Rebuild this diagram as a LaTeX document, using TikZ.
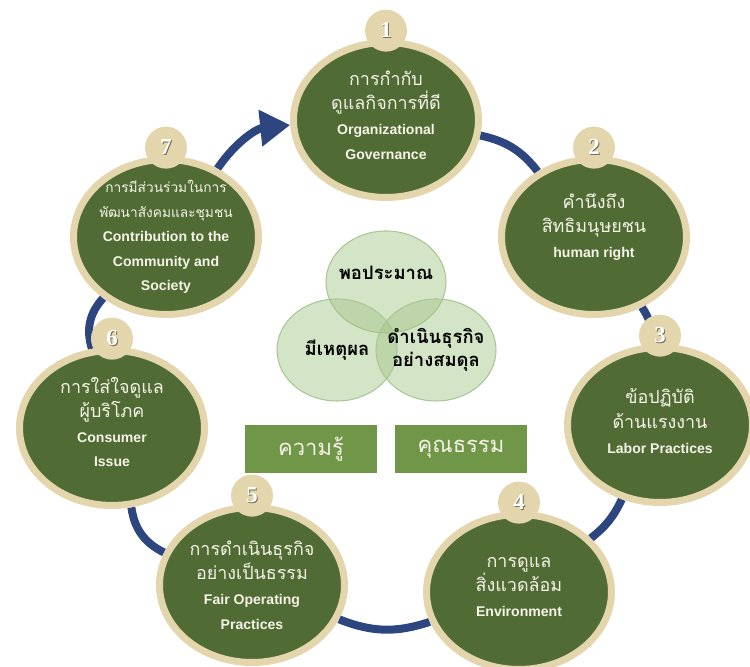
\documentclass[tikz,border=0pt]{standalone}
\usepackage{fontspec}
\setmainfont{Liberation Sans}
\newfontfamily\thaifont[Script=Thai]{Loma}
\newfontfamily\numfont{Liberation Serif}
\usetikzlibrary{shapes.geometric, positioning, arrows.meta, backgrounds}
\definecolor{leaf}{RGB}{80,108,52}
\definecolor{sand}{RGB}{228,214,172}
\definecolor{cream}{RGB}{246,243,232}
\definecolor{ringblue}{RGB}{46,70,128}
\definecolor{venn}{RGB}{160,195,130}
\definecolor{vennedge}{RGB}{170,198,150}
\definecolor{boxgreen}{RGB}{112,150,72}
\definecolor{numshade}{RGB}{120,110,90}
\newcommand{\thl}{\fontsize{10.2}{14}\thaifont}
\newcommand{\thls}{\fontsize{7.8}{14}\thaifont}
\newcommand{\engl}{\fontsize{8}{14}\selectfont\bfseries}
\newcommand{\numtxt}[1]{\rlap{\textcolor{numshade}{\kern0.6pt\raisebox{-0.6pt}{#1}}}#1}

\begin{document}
\begin{tikzpicture}[
  issue/.style={ellipse, draw=sand, line width=0.14cm, fill=leaf, minimum width=3.7cm, minimum height=3.1cm, inner sep=0pt},
  issuetext/.style={text=cream, align=center, font=\fontsize{10}{14}\selectfont},
  badge/.style={circle, fill=sand, minimum size=0.84cm, inner sep=0pt, text=white, font=\fontsize{13}{13}\numfont\bfseries},
  link/.style={ringblue, line width=0.16cm},
  petal/.style={ellipse, fill=venn, fill opacity=0.45, draw=vennedge, draw opacity=1, line width=0.6pt, minimum width=2.4cm, minimum height=2.04cm, inner sep=0pt},
  petaltext/.style={text opacity=1, align=center, font=\fontsize{10.5}{13}\thaifont\bfseries},
  value/.style={rectangle, fill=boxgreen, minimum width=2.64cm, minimum height=0.96cm, text=cream, font=\fontsize{12.5}{14}\thaifont}]
	\useasboundingbox (0,0) rectangle (15,13.34);
	\node[issue, label={[issuetext, yshift=0.1cm]center:{\thl การกำกับ\\\thl ดูแลกิจการที่ดี\\\engl Organizational\\\engl Governance}}] (c1) at (7.72,10.94) {};
	\node[issue, label={[issuetext, yshift=0.2cm]center:{\thl คำนึงถึง\\\thl สิทธิมนุษยชน\\\engl human right}}] (c2) at (11.88,8.60) {};
	\node[issue, label={[issuetext, yshift=0.08cm]center:{\thl ข้อปฏิบัติ\\\thl ด้านแรงงาน\\\engl Labor Practices}}] (c3) at (13.20,4.84) {};
	\node[issue, label={[issuetext, yshift=0.1cm]center:{\thl การดูแล\\\thl สิ่งแวดล้อม\\\engl Environment}}] (c4) at (10.38,1.50) {};
	\node[issue, label={[issuetext]center:{\thl การดำเนินธุรกิจ\\\thl อย่างเป็นธรรม\\\engl Fair Operating\\\engl Practices}}] (c5) at (5.04,1.64) {};
	\node[issue, label={[issuetext, yshift=0.12cm]center:{\thl การใส่ใจดูแล\\\thl ผู้บริโภค\\\engl Consumer\\\engl Issue}}] (c6) at (2.24,4.78) {};
	\node[issue, label={[issuetext]center:{\thls การมีส่วนร่วมในการ\\\thls พัฒนาสังคมและชุมชน\\\engl Contribution to the\\\engl Community and\\\engl Society}}] (c7) at (3.32,8.60) {};
	\node[badge, above=-0.26cm of c1] (n1) {\numtxt{1}};
	\node[badge, above=-0.26cm of c2] (n2) {\numtxt{2}};
	\node[badge, above=-0.26cm of c3] (n3) {\numtxt{3}};
	\node[badge, above=-0.26cm of c4] (n4) {\numtxt{4}};
	\node[badge, above=-0.26cm of c5] (n5) {\numtxt{5}};
	\node[badge, above=-0.26cm of c6] (n6) {\numtxt{6}};
	\node[badge, above=-0.26cm of c7] (n7) {\numtxt{7}};
	\begin{scope}[on background layer]
		\draw[link] (c1) to[bend left=20] (c2);
		\draw[link] (c2) to[bend left=15] (c3);
		\draw[link] (c3) to[bend left=13] (c4);
		\draw[link] (c4) to[bend left=20] (c5);
		\draw[link] (c5) to[bend left=28] (c6);
		\draw[link] (c6) to[bend left=30] (c7);
		\draw[link, -{Triangle[length=0.6cm, width=0.7cm]}] (c7) to[bend left=25] (c1);
	\end{scope}
	\node[petal, label={[petaltext, yshift=0.18cm]center:พอประมาณ}] (v1) at (7.72,7.70) {};
	\node[petal, label={[petaltext]center:มีเหตุผล}] (v2) at (6.74,6.34) {};
	\node[petal, label={[petaltext]center:{ดำเนินธุรกิจ\\อย่างสมดุล}}] (v3) at (8.72,6.34) {};
	\node[value] (k1) at (6.22,4.36) {ความรู้};
	\node[value] (k2) at (9.22,4.36) {คุณธรรม};
\end{tikzpicture}
\end{document}
